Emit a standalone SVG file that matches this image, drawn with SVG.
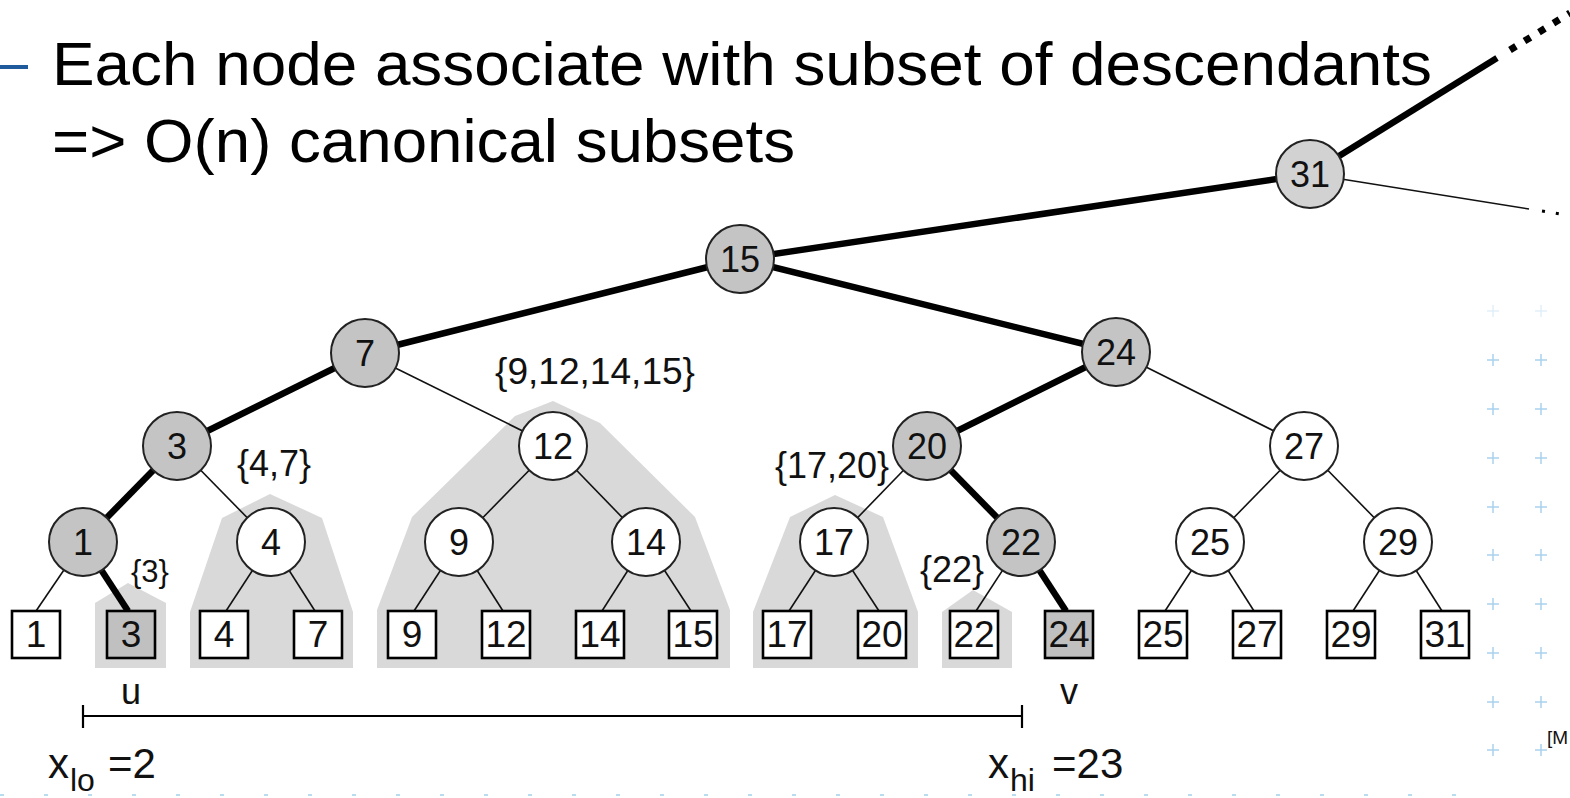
<svg xmlns="http://www.w3.org/2000/svg" width="1570" height="798" viewBox="0 0 1570 798">
<style>
text{font-family:"Liberation Sans",Arial,sans-serif;fill:#111}
.head{font-size:62px;fill:#000}
.thin{stroke:#111;stroke-width:1.6;fill:none}
.thick{stroke:#000;stroke-width:6.5;fill:none}
.shade{fill:#d9d9d9}
.cw{fill:#fff;stroke:#222;stroke-width:2}
.cg{fill:#c4c4c4;stroke:#222;stroke-width:2}
.lf{fill:#fff;stroke:#000;stroke-width:2.6}
.lg{fill:#c0c0c0;stroke:#000;stroke-width:2.6}
.nl{font-size:36px;text-anchor:middle}
.ll{font-size:37px;text-anchor:middle}
.sub{font-size:36px;text-anchor:middle}
.plus{stroke:#a9d2ee;stroke-width:1.5}
</style>
<rect width="1570" height="798" fill="#fff"/>
<!-- slide decoration -->
<g id="decoration">
<line x1="0" y1="67" x2="28" y2="67" stroke="#1f5b9c" stroke-width="4"/>
<line x1="0" y1="795" x2="1470" y2="795" stroke="#b8dcf0" stroke-width="2" stroke-dasharray="4 40"/>
<g class="plus">
<path d="M1487 360h12M1493 354v12M1535 360h12M1541 354v12"/>
<path d="M1487 409h12M1493 403v12M1535 409h12M1541 403v12"/>
<path d="M1487 458h12M1493 452v12M1535 458h12M1541 452v12"/>
<path d="M1487 507h12M1493 501v12M1535 507h12M1541 501v12"/>
<path d="M1487 555h12M1493 549v12M1535 555h12M1541 549v12"/>
<path d="M1487 604h12M1493 598v12M1535 604h12M1541 598v12"/>
<path d="M1487 653h12M1493 647v12M1535 653h12M1541 647v12"/>
<path d="M1487 702h12M1493 696v12M1535 702h12M1541 696v12"/>
<path d="M1487 750h12M1493 744v12M1535 750h12M1541 744v12"/>
</g>
<g class="plus" opacity="0.35">
<path d="M1487 311h12M1493 305v12M1535 311h12M1541 305v12"/>
</g>
<text x="1547" y="744" style="font-size:19px">[M</text>
</g>
<text class="head" x="52" y="85" textLength="1380" lengthAdjust="spacingAndGlyphs">Each node associate with subset of descendants</text>
<text class="head" x="52" y="162" textLength="743" lengthAdjust="spacingAndGlyphs">=&gt; O(n) canonical subsets</text>
<!-- shaded canonical subsets -->
<g id="subsets">
<polygon class="shade" points="95,668 95,603 128,583 166,603 166,668"/>
<polygon class="shade" points="190,668 190,612 222,518 270,494 322,518 353,612 353,668"/>
<polygon class="shade" points="377,668 377,610 412,517 515,416 553,401 600,423 695,517 730,610 730,668"/>
<polygon class="shade" points="753,668 753,612 790,517 835,495 883,517 918,612 918,668"/>
<polygon class="shade" points="942,668 942,612 973,590 1012,612 1012,668"/>
</g>
<!-- connectors -->
<g id="connectors">
<line class="thick" x1="1310" y1="174" x2="1497" y2="58"/>
<line x1="1510" y1="50" x2="1570" y2="13" stroke="#000" stroke-width="7" stroke-dasharray="7 10"/>
<line class="thin" x1="1310" y1="174" x2="1529" y2="209"/>
<line x1="1542" y1="211" x2="1566" y2="215" stroke="#000" stroke-width="3" stroke-dasharray="3 11"/>
<line class="thick" x1="1310" y1="174" x2="740" y2="259"/>
<line class="thick" x1="740" y1="259" x2="365" y2="353"/>
<line class="thick" x1="740" y1="259" x2="1116" y2="352"/>
<line class="thick" x1="365" y1="353" x2="177" y2="446"/>
<line class="thin" x1="365" y1="353" x2="553" y2="446"/>
<line class="thick" x1="1116" y1="352" x2="927" y2="446"/>
<line class="thin" x1="1116" y1="352" x2="1304" y2="446"/>
<line class="thick" x1="177" y1="446" x2="83" y2="542"/>
<line class="thin" x1="177" y1="446" x2="271" y2="542"/>
<line class="thin" x1="553" y1="446" x2="459" y2="542"/>
<line class="thin" x1="553" y1="446" x2="646" y2="542"/>
<line class="thin" x1="927" y1="446" x2="834" y2="542"/>
<line class="thick" x1="927" y1="446" x2="1021" y2="542"/>
<line class="thin" x1="1304" y1="446" x2="1210" y2="542"/>
<line class="thin" x1="1304" y1="446" x2="1398" y2="542"/>
<line class="thin" x1="83" y1="542" x2="36" y2="611"/>
<line class="thick" x1="83" y1="542" x2="128" y2="611"/>
<line class="thin" x1="271" y1="542" x2="226" y2="611"/>
<line class="thin" x1="271" y1="542" x2="315" y2="611"/>
<line class="thin" x1="459" y1="542" x2="414" y2="611"/>
<line class="thin" x1="459" y1="542" x2="503" y2="611"/>
<line class="thin" x1="646" y1="542" x2="602" y2="611"/>
<line class="thin" x1="646" y1="542" x2="691" y2="611"/>
<line class="thin" x1="834" y1="542" x2="789" y2="611"/>
<line class="thin" x1="834" y1="542" x2="879" y2="611"/>
<line class="thin" x1="1021" y1="542" x2="976" y2="611"/>
<line class="thick" x1="1021" y1="542" x2="1066" y2="611"/>
<line class="thin" x1="1210" y1="542" x2="1165" y2="611"/>
<line class="thin" x1="1210" y1="542" x2="1254" y2="611"/>
<line class="thin" x1="1398" y1="542" x2="1353" y2="611"/>
<line class="thin" x1="1398" y1="542" x2="1442" y2="611"/>
</g>
<!-- internal nodes -->
<g id="n31"><circle cx="1310" cy="174" r="34" fill="#d2d2d2" stroke="#222" stroke-width="2"/><text class="nl" x="1310" y="187">31</text></g>
<g id="n15"><circle class="cg" cx="740" cy="259" r="34"/><text class="nl" x="740" y="272">15</text></g>
<g id="n7"><circle class="cg" cx="365" cy="353" r="34"/><text class="nl" x="365" y="366">7</text></g>
<g id="n24"><circle class="cg" cx="1116" cy="352" r="34"/><text class="nl" x="1116" y="365">24</text></g>
<g id="n3"><circle class="cg" cx="177" cy="446" r="34"/><text class="nl" x="177" y="459">3</text></g>
<g id="n12"><circle class="cw" cx="553" cy="446" r="34"/><text class="nl" x="553" y="459">12</text></g>
<g id="n20"><circle class="cg" cx="927" cy="446" r="34"/><text class="nl" x="927" y="459">20</text></g>
<g id="n27"><circle class="cw" cx="1304" cy="446" r="34"/><text class="nl" x="1304" y="459">27</text></g>
<g id="n1"><circle class="cg" cx="83" cy="542" r="34"/><text class="nl" x="83" y="555">1</text></g>
<g id="n4"><circle class="cw" cx="271" cy="542" r="34"/><text class="nl" x="271" y="555">4</text></g>
<g id="n9"><circle class="cw" cx="459" cy="542" r="34"/><text class="nl" x="459" y="555">9</text></g>
<g id="n14"><circle class="cw" cx="646" cy="542" r="34"/><text class="nl" x="646" y="555">14</text></g>
<g id="n17"><circle class="cw" cx="834" cy="542" r="34"/><text class="nl" x="834" y="555">17</text></g>
<g id="n22"><circle class="cg" cx="1021" cy="542" r="34"/><text class="nl" x="1021" y="555">22</text></g>
<g id="n25"><circle class="cw" cx="1210" cy="542" r="34"/><text class="nl" x="1210" y="555">25</text></g>
<g id="n29"><circle class="cw" cx="1398" cy="542" r="34"/><text class="nl" x="1398" y="555">29</text></g>
<!-- leaves -->
<g id="l1"><rect class="lf" x="12" y="611" width="48" height="47"/><text class="ll" x="36" y="647">1</text></g>
<g id="l3"><rect class="lg" x="107" y="611" width="48" height="47"/><text class="ll" x="131" y="647">3</text></g>
<g id="l4"><rect class="lf" x="200" y="611" width="48" height="47"/><text class="ll" x="224" y="647">4</text></g>
<g id="l7"><rect class="lf" x="294" y="611" width="48" height="47"/><text class="ll" x="318" y="647">7</text></g>
<g id="l9"><rect class="lf" x="388" y="611" width="48" height="47"/><text class="ll" x="412" y="647">9</text></g>
<g id="l12"><rect class="lf" x="482" y="611" width="48" height="47"/><text class="ll" x="506" y="647">12</text></g>
<g id="l14"><rect class="lf" x="576" y="611" width="48" height="47"/><text class="ll" x="600" y="647">14</text></g>
<g id="l15"><rect class="lf" x="669" y="611" width="48" height="47"/><text class="ll" x="693" y="647">15</text></g>
<g id="l17"><rect class="lf" x="763" y="611" width="48" height="47"/><text class="ll" x="787" y="647">17</text></g>
<g id="l20"><rect class="lf" x="858" y="611" width="48" height="47"/><text class="ll" x="882" y="647">20</text></g>
<g id="l22"><rect class="lf" x="950" y="611" width="48" height="47"/><text class="ll" x="974" y="647">22</text></g>
<g id="l24"><rect class="lg" x="1045" y="611" width="48" height="47"/><text class="ll" x="1069" y="647">24</text></g>
<g id="l25"><rect class="lf" x="1139" y="611" width="48" height="47"/><text class="ll" x="1163" y="647">25</text></g>
<g id="l27"><rect class="lf" x="1233" y="611" width="48" height="47"/><text class="ll" x="1257" y="647">27</text></g>
<g id="l29"><rect class="lf" x="1327" y="611" width="48" height="47"/><text class="ll" x="1351" y="647">29</text></g>
<g id="l31"><rect class="lf" x="1421" y="611" width="48" height="47"/><text class="ll" x="1445" y="647">31</text></g>
<!-- subset labels -->
<g id="labels">
<text class="sub" x="595" y="384" textLength="200" lengthAdjust="spacingAndGlyphs">{9,12,14,15}</text>
<text class="sub" x="274" y="476">{4,7}</text>
<text class="sub" x="150" y="582" style="font-size:31px">{3}</text>
<text class="sub" x="832" y="478">{17,20}</text>
<text class="sub" x="952" y="582">{22}</text>
</g>
<!-- query interval -->
<g id="interval">
<line x1="83" y1="716" x2="1022" y2="716" stroke="#000" stroke-width="2.2"/>
<line x1="83" y1="705" x2="83" y2="728" stroke="#000" stroke-width="2.2"/>
<line x1="1022" y1="705" x2="1022" y2="728" stroke="#000" stroke-width="2.2"/>
<text x="131" y="704" style="font-size:36px;text-anchor:middle">u</text>
<text x="1069" y="704" style="font-size:36px;text-anchor:middle">v</text>
<text x="48" y="778" style="font-size:42px">x</text>
<text x="70" y="791" style="font-size:32px">lo</text>
<text x="108" y="778" style="font-size:42px">=2</text>
<text x="988" y="778" style="font-size:42px">x</text>
<text x="1010" y="791" style="font-size:32px">hi</text>
<text x="1052" y="778" style="font-size:42px">=23</text>
</g>
</svg>
